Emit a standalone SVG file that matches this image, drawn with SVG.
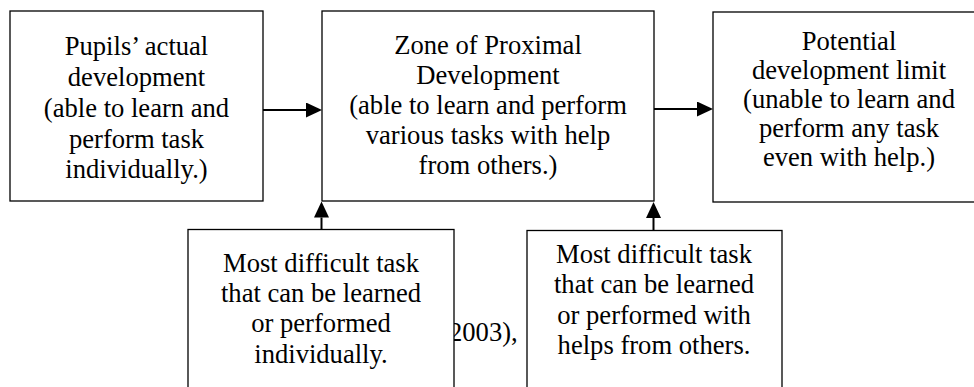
<svg xmlns="http://www.w3.org/2000/svg" width="974" height="387" viewBox="0 0 974 387">
<style>
.box{fill:#fff;stroke:#000;stroke-width:1.3}
.t{font-family:"Liberation Serif","Times New Roman",serif;font-size:26.6px;fill:#000;text-anchor:middle}
.bg{font-family:"Liberation Serif","Times New Roman",serif;font-size:26.6px;fill:#000}
.c{stroke:#000;stroke-width:2;fill:none}
</style>
<defs>
<marker id="arr" viewBox="0 0 16 15" refX="0" refY="7.5" markerWidth="16" markerHeight="15" markerUnits="userSpaceOnUse" orient="auto">
<path d="M0,0 L16,7.5 L0,15 Z" fill="#000"/>
</marker>
</defs>
<rect width="974" height="387" fill="#fff"/>
<text class="bg" x="449" y="341">2003),</text>
<g id="node-actual">
<rect class="box" x="10" y="11" width="253" height="190"/>
<text class="t" x="136.5" y="55">Pupils’ actual</text>
<text class="t" x="136.5" y="86">development</text>
<text class="t" x="136.5" y="117">(able to learn and</text>
<text class="t" x="136.5" y="148">perform task</text>
<text class="t" x="136.5" y="178">individually.)</text>
</g>
<g id="node-zpd">
<rect class="box" x="322" y="11" width="332" height="190"/>
<text class="t" x="488" y="54">Zone of Proximal</text>
<text class="t" x="488" y="84">Development</text>
<text class="t" x="488" y="114">(able to learn and perform</text>
<text class="t" x="488" y="144">various tasks with help</text>
<text class="t" x="488" y="174">from others.)</text>
</g>
<g id="node-potential">
<rect class="box" x="713" y="12" width="280" height="190"/>
<text class="t" x="849" y="50">Potential</text>
<text class="t" x="849" y="79">development limit</text>
<text class="t" x="849" y="108">(unable to learn and</text>
<text class="t" x="849" y="137">perform any task</text>
<text class="t" x="849" y="166">even with help.)</text>
</g>
<g id="node-individual">
<rect class="box" x="188" y="229.5" width="266" height="180"/>
<text class="t" x="321" y="272">Most difficult task</text>
<text class="t" x="321" y="302">that can be learned</text>
<text class="t" x="321" y="332">or performed</text>
<text class="t" x="321" y="363">individually.</text>
</g>
<g id="node-help">
<rect class="box" x="527" y="230.5" width="255" height="180"/>
<text class="t" x="654" y="263">Most difficult task</text>
<text class="t" x="654" y="293">that can be learned</text>
<text class="t" x="654" y="324">or performed with</text>
<text class="t" x="654" y="354">helps from others.</text>
</g>
<g id="connectors">
<line class="c" x1="263" y1="110" x2="306" y2="110" marker-end="url(#arr)"/>
<line class="c" x1="654" y1="109" x2="697" y2="109" marker-end="url(#arr)"/>
<line class="c" x1="321.5" y1="229.5" x2="321.5" y2="217.5" marker-end="url(#arr)"/>
<line class="c" x1="653.5" y1="230.5" x2="653.5" y2="218" marker-end="url(#arr)"/>
</g>
</svg>
